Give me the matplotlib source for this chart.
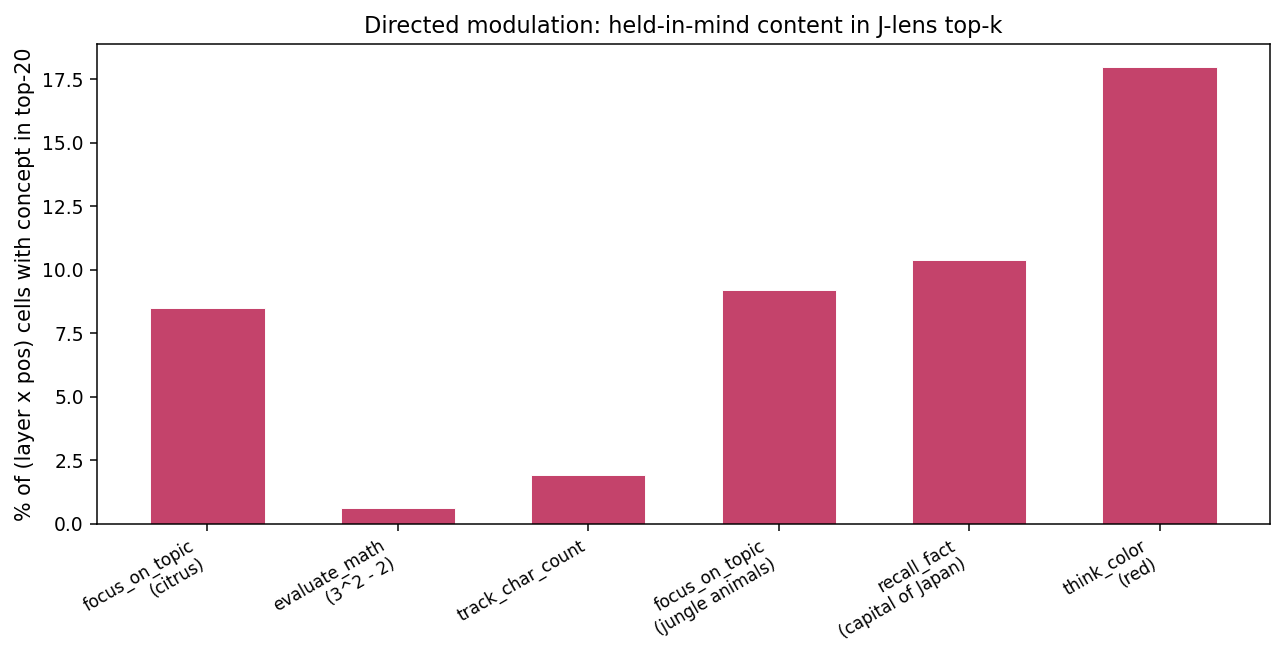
import matplotlib
matplotlib.use("Agg")
import matplotlib.pyplot as plt
import numpy as np

# data
labels = [
    "focus_on_topic\n(citrus)",
    "evaluate_math\n(3^2 - 2)",
    "track_char_count",
    "focus_on_topic\n(jungle animals)",
    "recall_fact\n(capital of Japan)",
    "think_color\n(red)",
]
pct = [8.5, 0.6, 1.9, 9.2, 10.4, 18.0]

dpi = 135
fig, ax = plt.subplots(figsize=(1286 / dpi, 656 / dpi), dpi=dpi)
x = np.arange(len(labels))
ax.bar(x, pct, width=0.6, color="#c4436b", edgecolor="white", linewidth=0.5)

ax.set_xticks(x)
ax.set_xticklabels(labels, rotation=30, ha="right", fontsize=9)
ax.set_ylabel("% of (layer x pos) cells with concept in top-20", fontsize=11)
ax.set_title("Directed modulation: held-in-mind content in J-lens top-k", fontsize=12)

plt.subplots_adjust(left=0.0754, right=0.9876, top=0.933, bottom=0.2017)
plt.savefig("out.png", dpi=dpi)
